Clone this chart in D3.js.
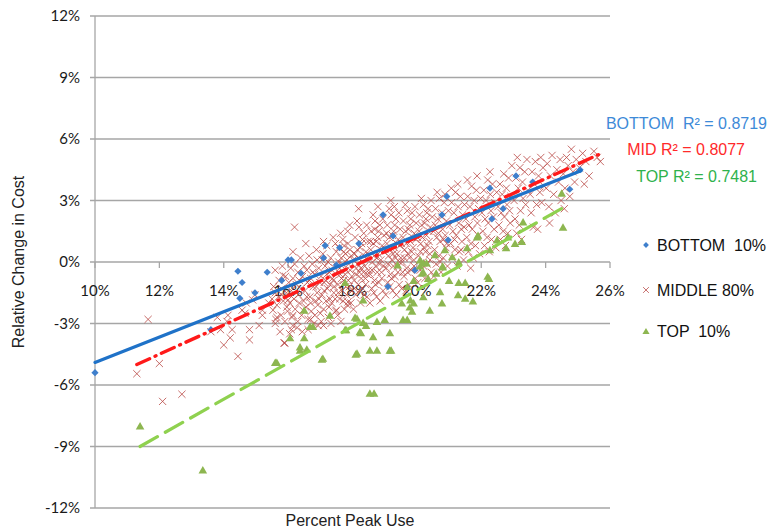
<!DOCTYPE html>
<html lang="en">
<head>
<meta charset="UTF-8">
<script src="https://cdn.jsdelivr.net/npm/d3@7"></script>
<title>Percent Peak Use vs Relative Change in Cost</title>
<style>
    body { margin: 0; background: #fff; }
    text { font-family: "Liberation Sans", Arial, sans-serif; white-space: pre; }
    .tick-label { font-family: Lato, "Liberation Sans", sans-serif; font-size: 15px; fill: #1a1a1a; }
</style>
</head>
<body>
<div id="chart"></div>
<script>
// tick values (percent)
const xTicks = [10, 12, 14, 16, 18, 20, 22, 24, 26];
const yTicks = [-12, -9, -6, -3, 0, 3, 6, 9, 12];

// BOTTOM 10% points [percent peak use, relative change in cost]
const bottomPts = [
    [10.0,-5.4],[13.6,-3.3],[14.44,-0.45],[14.57,-1.0],[14.97,-1.5],[14.5,-1.77],[15.35,-0.5],
    [15.8,-0.9],[16.0,0.1],[16.1,0.1],[16.4,-0.55],[17.1,0.2],[17.15,0.8],[17.5,-0.15],
    [17.6,0.7],[18.2,0.9],[18.95,2.3],[19.26,1.27],[19.1,-1.2],[19.94,-0.4],[20.78,2.3],
    [20.97,1.07],[20.93,3.2],[22.27,3.6],[22.33,2.1],[22.68,2.6],[23.08,4.2],[23.6,3.9],
    [24.75,3.55],[25.07,4.5]
];

// TOP 10% points
const topPts = [
    [11.4,-8.0],[13.35,-10.15],[15.6,-4.9],[15.65,-4.9],[16.06,-3.7],[16.37,-4.15],[16.37,-4.3],
    [16.5,-3.7],[16.5,-2.35],[16.58,-4.25],[16.68,-3.15],[16.77,-3.15],[17.05,-4.75],[17.08,-4.7],
    [17.3,-2.6],[17.77,-3.3],[17.77,-1.0],[17.8,-3.3],[18.08,-2.7],[18.1,-4.5],[18.14,-4.45],
    [18.14,-2.75],[18.23,-3.4],[18.26,-3.45],[18.33,-2.95],[18.33,-1.85],[18.42,-3.1],[18.54,-4.3],
    [18.54,-6.4],[18.64,-3.65],[18.67,-6.4],[18.76,-4.3],[18.76,-2.9],[19.0,-2.8],[19.16,-3.45],
    [19.16,-4.3],[19.2,-4.3],[19.4,-0.15],[19.53,-2.0],[19.57,-2.8],[19.7,-1.2],[19.7,-2.8],
    [19.78,-2.2],[19.8,-1.85],[19.85,-2.4],[19.9,-0.9],[19.9,-2.0],[20.1,0.1],[20.1,-0.2],
    [20.16,-0.55],[20.2,-0.5],[20.2,-1.7],[20.2,-0.05],[20.3,-0.05],[20.35,-0.8],[20.4,-2.35],
    [20.56,0.35],[20.6,-0.55],[20.72,-1.45],[20.78,-2.0],[20.8,-0.25],[20.8,-0.2],[20.87,0.6],
    [21.0,-0.9],[21.1,0.25],[21.28,-1.6],[21.3,0.0],[21.3,-1.0],[21.5,-1.0],[21.5,-1.77],
    [21.56,0.7],[21.74,-1.9],[21.87,1.22],[21.9,1.3],[22.2,-0.7],[22.24,-0.8],[22.27,0.6],
    [22.49,1.07],[22.77,0.7],[22.83,1.22],[23.05,0.9],[23.26,1.0],[23.3,1.95],[24.5,3.35],[24.54,1.7]
];

// MIDDLE 80% points
const middlePts = [
    [11.3,-5.45],[11.65,-2.8],[12.0,-4.95],[12.1,-6.8],[12.7,-6.45],[13.6,-3.4],[13.8,-2.7],
    [13.9,-3.3],[14.0,-4.05],[14.1,-2.9],[14.13,-2.6],[14.2,-3.7],[14.26,-3.3],[14.44,-4.6],
    [14.57,-2.35],[14.66,-2.5],[14.7,-2.0],[14.8,-3.3],[14.8,-3.8],[14.9,-1.85],[14.97,-1.6],
    [15.1,-3.1],[15.2,-2.6],[15.2,-2.35],[15.4,-2.0],[15.53,-2.35],[15.6,-3.0],[15.6,-1.5],
    [15.65,-2.7],[15.75,-3.4],[15.8,-1.6],[15.84,-0.65],[15.87,-3.95],[15.9,-3.95],[15.96,-2.2],
    [16.0,-1.85],[16.1,-3.3],[16.15,-2.6],[16.15,-3.1],[16.2,1.7],[16.46,-2.35],[16.7,-2.8],
    [17.0,-2.5],[17.1,-3.1],[17.5,-2.35],[17.86,-1.95],[19.3,2.7],
    [15.55,-1.2],[15.6,-0.4],[15.65,-2.1],[15.7,-1.7],[15.72,-0.9],[15.78,-2.6],[15.8,-1.3],
    [15.82,-0.2],[15.85,-1.9],[15.9,-2.9],[15.92,-0.7],[15.95,-1.5],[15.98,-2.4],[15.5,-1.8],[15.62,-2.8],
    [16.02,-1.0],[16.05,-2.0],[16.08,-0.3],[16.1,-1.4],[16.12,-2.7],[16.15,-0.8],[16.18,-1.8],
    [16.2,-0.1],[16.22,-2.3],[16.25,-1.1],[16.28,-3.2],[16.3,-0.5],[16.32,-1.6],[16.35,-2.0],
    [16.38,0.2],[16.4,-1.3],[16.42,-2.6],[16.45,-0.7],[16.48,-1.9],[16.5,-0.2],[16.05,-3.5],
    [16.3,-2.9],[16.44,-3.4],[16.15,0.5],[16.35,-0.9],
    [16.52,-1.4],[16.55,-2.2],[16.58,-0.4],[16.6,-1.0],[16.62,-2.8],[16.65,0.3],[16.68,-1.7],
    [16.7,-0.8],[16.72,-2.4],[16.75,-0.1],[16.78,-1.2],[16.8,-3.0],[16.82,-0.6],[16.85,-1.9],
    [16.88,0.6],[16.9,-1.5],[16.92,-2.1],[16.95,-0.3],[16.98,-1.0],[16.55,0.9],[16.62,-3.3],
    [16.7,-2.0],[16.77,-0.5],[16.83,-2.6],[16.9,0.1],[16.96,-1.8],[16.58,-1.7],[16.87,-1.2],
    [16.66,-0.9],[16.93,-3.1],
    [17.02,-0.7],[17.05,-1.6],[17.08,0.4],[17.1,-2.3],[17.12,-1.0],[17.15,-0.2],[17.18,-1.9],
    [17.2,0.8],[17.22,-1.3],[17.25,-2.7],[17.28,-0.5],[17.3,-1.1],[17.32,0.2],[17.35,-2.0],
    [17.38,-0.8],[17.4,1.2],[17.42,-1.5],[17.45,-0.3],[17.48,-2.4],[17.5,0.5],[17.03,-2.9],
    [17.1,1.0],[17.17,-0.9],[17.24,0.0],[17.3,-1.8],[17.36,-0.4],[17.43,-1.2],[17.47,0.9],
    [17.12,-1.4],[17.27,-2.2],[17.4,-0.9],[17.06,0.1],[17.2,-0.6],[17.33,-3.0],[17.46,-1.8],
    [17.52,-0.2],[17.55,-1.1],[17.58,0.7],[17.6,-1.8],[17.62,-0.6],[17.65,0.2],[17.68,-1.4],
    [17.7,1.1],[17.72,-0.9],[17.75,-2.3],[17.78,0.4],[17.8,-0.4],[17.82,-1.6],[17.85,1.5],
    [17.88,-0.1],[17.9,-1.2],[17.92,0.6],[17.95,-2.0],[17.98,-0.7],[17.54,-2.6],[17.57,0.0],
    [17.63,1.4],[17.66,-0.8],[17.71,-1.9],[17.74,0.8],[17.79,-1.2],[17.83,0.1],[17.87,-0.9],
    [17.91,1.8],[17.96,0.3],[17.99,-1.4],[17.6,-0.3],[17.69,-0.1],[17.77,-0.6],[17.84,-2.1],
    [17.93,-0.4],[17.56,-1.5],[17.64,-2.9],[17.73,0.5],[17.86,0.9],
    [18.02,0.1],[18.05,-0.9],[18.08,1.2],[18.1,-1.6],[18.12,-0.3],[18.15,0.6],[18.18,-1.1],
    [18.2,1.7],[18.22,-0.5],[18.25,-2.0],[18.28,0.9],[18.3,0.0],[18.32,-1.3],[18.35,1.4],
    [18.38,-0.2],[18.4,-0.8],[18.42,0.5],[18.45,-1.7],[18.48,1.0],[18.5,-0.4],[18.03,-2.3],
    [18.07,0.4],[18.11,-0.6],[18.14,2.0],[18.17,0.2],[18.21,-1.4],[18.24,0.7],[18.27,-0.8],
    [18.31,1.1],[18.34,-0.5],[18.37,0.3],[18.41,-1.1],[18.44,1.8],[18.47,0.1],[18.06,-1.3],
    [18.16,-0.1],[18.26,-0.3],[18.36,-1.6],[18.46,-0.6],[18.19,2.6],
    [18.52,0.3],[18.55,-0.6],[18.58,1.5],[18.6,-1.3],[18.62,0.0],[18.65,0.9],[18.68,-0.9],
    [18.7,2.0],[18.72,-0.2],[18.75,-1.7],[18.78,1.2],[18.8,0.4],[18.82,-1.0],[18.85,1.8],
    [18.88,0.1],[18.9,-0.5],[18.92,0.8],[18.95,-1.4],[18.98,1.3],[18.54,-2.0],[18.57,0.6],
    [18.61,-0.4],[18.64,2.3],[18.67,0.3],[18.71,-1.1],[18.74,1.0],[18.77,-0.5],[18.81,1.5],
    [18.84,-0.1],[18.87,0.6],[18.91,-0.8],[18.94,2.1],[18.97,0.5],[18.56,1.0],[18.66,-1.5],
    [18.76,0.2],[18.86,-1.9],[18.96,-0.2],[18.69,1.6],[18.79,2.7],
    [19.02,0.6],[19.05,-0.3],[19.08,1.8],[19.1,-1.0],[19.12,0.3],[19.15,1.2],[19.18,-0.6],
    [19.2,2.3],[19.22,0.1],[19.25,-1.4],[19.28,1.5],[19.3,0.7],[19.32,-0.7],[19.35,2.1],
    [19.38,0.4],[19.4,-0.2],[19.42,1.1],[19.45,-1.1],[19.48,1.6],[19.5,0.2],[19.03,-1.6],
    [19.07,0.9],[19.11,-0.1],[19.14,2.6],[19.17,0.6],[19.21,-0.8],[19.24,1.3],[19.27,-0.2],
    [19.31,1.8],[19.34,0.2],[19.37,0.9],[19.41,-0.5],[19.44,2.4],[19.47,0.8],[19.06,1.4],
    [19.16,-1.2],[19.26,0.4],[19.36,-1.6],[19.46,0.0],[19.19,3.0],
    [19.52,0.9],[19.55,0.0],[19.58,2.0],[19.6,-0.7],[19.62,0.6],[19.65,1.5],[19.68,-0.3],
    [19.7,2.5],[19.72,0.4],[19.75,-1.1],[19.78,1.8],[19.8,1.0],[19.82,-0.4],[19.85,2.4],
    [19.88,0.7],[19.9,0.1],[19.92,1.4],[19.95,-0.8],[19.98,1.9],[19.53,-1.3],[19.57,1.2],
    [19.61,0.2],[19.64,2.8],[19.67,0.9],[19.71,-0.5],[19.74,1.6],[19.77,0.2],[19.81,2.1],
    [19.84,0.5],[19.87,1.2],[19.91,-0.2],[19.94,2.7],[19.97,1.1],[19.56,-0.5],[19.66,-1.4],
    [20.02,1.2],[20.05,0.3],[20.08,2.3],[20.1,-0.4],[20.12,0.9],[20.15,1.8],[20.18,0.0],
    [20.2,2.8],[20.22,0.7],[20.25,-0.8],[20.28,2.1],[20.3,1.3],[20.32,-0.1],[20.35,2.6],
    [20.38,1.0],[20.4,0.4],[20.42,1.7],[20.45,-0.5],[20.48,2.2],[20.03,-1.0],[20.07,1.5],
    [20.11,0.5],[20.14,3.1],[20.17,1.2],[20.21,-0.2],[20.24,1.9],[20.27,0.5],[20.31,2.4],
    [20.34,0.8],[20.37,1.5],[20.41,0.1],[20.44,3.0],
    [20.52,1.5],[20.55,0.6],[20.58,2.6],[20.6,-0.1],[20.62,1.2],[20.65,2.1],[20.68,0.3],
    [20.7,3.1],[20.72,1.0],[20.75,-0.5],[20.78,2.4],[20.8,1.6],[20.82,0.2],[20.85,2.9],
    [20.88,1.3],[20.9,0.7],[20.92,2.0],[20.95,-0.2],[20.98,2.5],[20.53,-0.7],[20.57,1.8],
    [20.63,3.4],[20.67,1.4],[20.73,0.0],[20.77,2.2],[20.83,1.1],[20.87,3.3],[20.93,0.9],
    [21.02,1.8],[21.05,0.9],[21.08,2.9],[21.1,0.2],[21.12,1.5],[21.15,2.4],[21.18,0.6],
    [21.2,3.4],[21.22,1.3],[21.25,-0.2],[21.28,2.7],[21.3,1.9],[21.32,0.5],[21.35,3.2],
    [21.38,1.6],[21.4,1.0],[21.42,2.3],[21.45,0.1],[21.48,2.8],[21.07,3.6],[21.17,1.1],
    [21.27,3.8],[21.37,0.6],[21.47,1.7],
    [21.52,2.1],[21.55,1.2],[21.58,3.2],[21.6,0.5],[21.62,1.8],[21.65,2.7],[21.68,0.9],
    [21.7,3.7],[21.72,1.6],[21.75,0.2],[21.78,3.0],[21.8,2.2],[21.82,0.8],[21.85,3.5],
    [21.88,1.9],[21.9,1.3],[21.92,2.6],[21.95,0.4],[21.98,3.1],[21.57,4.0],[21.67,-0.3],[21.87,4.2],
    [22.02,2.4],[22.05,1.5],[22.08,3.5],[22.1,0.8],[22.12,2.1],[22.15,3.0],[22.18,1.2],
    [22.2,4.0],[22.22,1.9],[22.25,0.5],[22.28,3.3],[22.3,2.5],[22.32,1.1],[22.35,3.8],
    [22.38,2.2],[22.4,1.6],[22.42,2.9],[22.45,0.7],[22.48,3.4],[22.27,4.4],
    [22.52,2.7],[22.55,1.8],[22.58,3.8],[22.6,1.1],[22.62,2.4],[22.65,3.3],[22.68,1.5],
    [22.7,4.3],[22.72,2.2],[22.75,0.8],[22.78,3.6],[22.8,2.8],[22.82,1.4],[22.85,4.1],
    [22.88,2.5],[22.9,1.9],[22.92,3.2],[22.95,4.7],
    [23.02,3.0],[23.05,2.1],[23.08,4.1],[23.1,1.4],[23.12,5.1],[23.15,3.6],[23.18,1.8],
    [23.2,4.6],[23.22,2.5],[23.25,1.1],[23.28,3.9],[23.3,3.1],[23.35,4.4],[23.38,2.8],
    [23.42,5.0],[23.45,3.5],
    [23.52,3.3],[23.55,2.4],[23.58,4.4],[23.62,1.7],[23.65,3.8],[23.68,4.9],[23.72,2.8],
    [23.75,1.6],[23.78,4.2],[23.82,3.4],[23.85,5.1],[23.88,2.9],[23.92,4.6],[23.95,3.7],
    [24.02,3.6],[24.05,4.8],[24.1,2.7],[24.15,4.2],[24.2,5.2],[24.25,3.3],[24.3,2.4],
    [24.35,4.5],[24.4,3.9],[24.45,5.0],[24.48,3.0],[24.12,1.9],
    [24.55,4.3],[24.6,3.6],[24.65,5.1],[24.7,4.7],[24.75,3.2],[24.8,5.5],[24.85,4.4],
    [24.9,3.9],[24.95,5.0],[24.58,2.6],
    [25.05,4.6],[25.15,5.3],[25.25,4.9],[25.35,4.2],[25.5,5.4],[25.6,5.1],[25.7,4.9],[25.2,3.8]
];

// linear trend lines: [x start, y start, x end, y end]
const trendBottom = [10.0, -4.9, 25.1, 4.45];
const trendMid = [11.3, -5.0, 25.8, 5.35];
const trendTop = [11.4, -9.0, 24.6, 2.7];

// R² labels
const r2Labels = ["BOTTOM  R\u00b2 = 0.8719", "MID R\u00b2 = 0.8077", "TOP R\u00b2 = 0.7481"];
const legendLabels = ["BOTTOM  10%", "MIDDLE 80%", "TOP  10%"];

const width = 780, height = 530;
const svg = d3.select("#chart").append("svg")
    .attr("width", width)
    .attr("height", height);

const x = d3.scaleLinear().domain([10, 26]).range([95, 610]);
const y = d3.scaleLinear().domain([-12, 12]).range([508, 16]);

const gridColor = "#a6a6a6";

// horizontal gridlines
svg.append("g").selectAll("line")
    .data(yTicks)
    .enter().append("line")
    .attr("x1", x(10) - 5).attr("x2", x(26))
    .attr("y1", d => y(d)).attr("y2", d => y(d))
    .attr("stroke", gridColor).attr("stroke-width", 1.3);

// y axis line
svg.append("line")
    .attr("x1", x(10)).attr("x2", x(10))
    .attr("y1", y(12)).attr("y2", y(-12))
    .attr("stroke", gridColor).attr("stroke-width", 1.3);

// x ticks on the zero line
svg.append("g").selectAll("line")
    .data(xTicks)
    .enter().append("line")
    .attr("x1", d => x(d)).attr("x2", d => x(d))
    .attr("y1", y(0)).attr("y2", y(0) + 6)
    .attr("stroke", gridColor).attr("stroke-width", 1.3);

// y tick labels
svg.append("g").selectAll("text")
    .data(yTicks)
    .enter().append("text")
    .attr("class", "tick-label")
    .attr("x", 80)
    .attr("y", d => y(d) + 5)
    .attr("text-anchor", "end")
    .text(d => d + "%");

// x tick labels
svg.append("g").selectAll("text")
    .data(xTicks)
    .enter().append("text")
    .attr("class", "tick-label")
    .attr("x", d => x(d))
    .attr("y", y(0) + 34)
    .attr("text-anchor", "middle")
    .text(d => d + "%");

// axis titles
svg.append("text")
    .attr("transform", `translate(24, ${y(0)}) rotate(-90)`)
    .attr("text-anchor", "middle")
    .style("font-size", "16px")
    .attr("fill", "#222")
    .text("Relative Change in Cost");

svg.append("text")
    .attr("x", 350).attr("y", 526)
    .attr("text-anchor", "middle")
    .style("font-size", "16px")
    .attr("fill", "#222")
    .text("Percent Peak Use");

// markers
const diamond = "M0,-3.6L3.6,0L0,3.6L-3.6,0Z";
const triangle = d3.symbol().type(d3.symbolTriangle).size(32);
const cross = "M-3.6,-3.6L3.6,3.6M-3.6,3.6L3.6,-3.6";

const blue = "#3f7fcc", red = "#b94845", green = "#8db650";

svg.append("g").selectAll("path")
    .data(middlePts)
    .enter().append("path")
    .attr("d", cross)
    .attr("transform", d => `translate(${x(d[0])},${y(d[1])})`)
    .attr("fill", "none")
    .attr("stroke", red)
    .attr("stroke-opacity", 0.8)
    .attr("stroke-width", 1);

svg.append("g").selectAll("path")
    .data(bottomPts)
    .enter().append("path")
    .attr("d", diamond)
    .attr("transform", d => `translate(${x(d[0])},${y(d[1])})`)
    .attr("fill", blue);

svg.append("g").selectAll("path")
    .data(topPts)
    .enter().append("path")
    .attr("d", triangle)
    .attr("transform", d => `translate(${x(d[0])},${y(d[1]) + 1})`)
    .attr("fill", green);

// trend lines
const drawTrend = (t, color, dash, w) => {
    svg.append("line")
        .attr("x1", x(t[0])).attr("y1", y(t[1]))
        .attr("x2", x(t[2])).attr("y2", y(t[3]))
        .attr("stroke", color)
        .attr("stroke-width", w)
        .attr("stroke-dasharray", dash)
        .attr("stroke-linecap", "round");
};
drawTrend(trendTop, "#8fd14f", "20 9", 3.2);
drawTrend(trendMid, "#ff1a1a", "14 6 1 6", 3.4);
drawTrend(trendBottom, "#1f72c8", null, 3.2);

// R² labels
const r2Colors = ["#3d8ad8", "#ff2a2a", "#2fb24c"];
const r2Pos = [[767, 129], [745, 155], [757, 182]];
svg.append("g").selectAll("text")
    .data(r2Labels)
    .enter().append("text")
    .attr("x", (d, i) => r2Pos[i][0])
    .attr("y", (d, i) => r2Pos[i][1])
    .attr("text-anchor", "end")
    .style("font-size", "16px")
    .attr("fill", (d, i) => r2Colors[i])
    .text(d => d);

// legend
const legendY = [245, 290, 331];
const legend = svg.append("g");
legend.append("path").attr("d", diamond).attr("transform", `translate(646,${legendY[0]}) scale(0.8)`).attr("fill", blue);
legend.append("path").attr("d", cross).attr("transform", `translate(646,${legendY[1]}) scale(0.8)`)
    .attr("fill", "none").attr("stroke", red).attr("stroke-opacity", 0.8).attr("stroke-width", 1.2);
legend.append("path").attr("d", triangle.size(22)).attr("transform", `translate(646,${legendY[2] + 1})`).attr("fill", green);
legend.selectAll("text")
    .data(legendLabels)
    .enter().append("text")
    .attr("x", 657)
    .attr("y", (d, i) => legendY[i] + 6)
    .style("font-size", "16px")
    .attr("fill", "#111")
    .text(d => d);
</script>
</body>
</html>
